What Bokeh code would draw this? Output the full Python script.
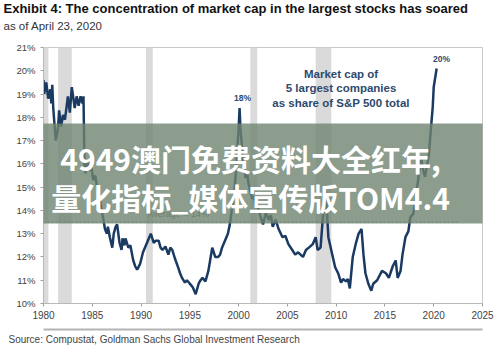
from bokeh.plotting import figure
from bokeh.models import (Label, BoxAnnotation, FixedTicker, Range1d, Title, LinearAxis)
from bokeh.core.properties import value
from bokeh.embed import file_html
from bokeh.resources import INLINE

# ---------------- data ----------------
years = [1980.0, 1980.07, 1980.28, 1980.48, 1980.69, 1980.8, 1980.9, 1981.0, 1981.25, 1981.4,
         1981.5, 1981.6, 1981.8, 1982.0, 1982.2, 1982.5, 1982.7, 1982.9, 1983.2, 1983.4,
         1983.6, 1983.8, 1984.0, 1984.1, 1984.2, 1984.3, 1984.5, 1984.7, 1984.9, 1985.1,
         1985.3, 1985.5, 1985.8, 1986.1, 1986.3, 1986.5, 1986.6, 1986.8, 1987.05, 1987.2,
         1987.4, 1987.55, 1987.7, 1987.8, 1988.0, 1988.1, 1988.3, 1988.4, 1988.7, 1988.9,
         1989.2, 1989.4, 1989.6, 1989.9, 1990.2, 1990.6, 1990.8, 1991.0, 1991.3, 1991.5,
         1991.8, 1992.0, 1992.2, 1992.5, 1992.8, 1993.0, 1993.2, 1993.5, 1993.8, 1994.0,
         1994.2, 1994.5, 1994.7, 1994.9, 1995.1, 1995.3, 1995.6, 1995.9, 1996.1, 1996.3,
         1996.6, 1996.9, 1997.1, 1997.3, 1997.6, 1997.9, 1998.1, 1998.3, 1998.6, 1998.9,
         1999.1, 1999.3, 1999.5, 1999.7, 1999.85, 2000.0, 2000.1, 2000.2, 2000.3, 2000.4,
         2000.6, 2000.7, 2000.9, 2001.0, 2001.2, 2001.4, 2001.6, 2001.7, 2001.9, 2002.0,
         2002.2, 2002.5, 2002.8, 2003.1, 2003.3, 2003.5, 2003.8, 2004.1, 2004.5, 2004.8,
         2005.1, 2005.5, 2005.8, 2006.1, 2006.6, 2006.9, 2007.2, 2007.6, 2007.9, 2008.1,
         2008.4, 2008.6, 2008.8, 2008.9, 2009.0, 2009.2, 2009.6, 2009.9, 2010.2, 2010.5,
         2010.7, 2011.0, 2011.2, 2011.4, 2011.7, 2012.0, 2012.3, 2012.6, 2012.8, 2013.0,
         2013.3, 2013.6, 2013.8, 2014.2, 2014.7, 2015.1, 2015.4, 2015.8, 2016.1, 2016.3,
         2016.6, 2016.8, 2017.1, 2017.4, 2017.6, 2017.9, 2018.0, 2018.2, 2018.5, 2018.7,
         2018.9, 2019.1, 2019.3, 2019.5, 2019.7, 2019.9, 2020.0, 2020.3]
share = [19.6, 19.0, 19.5, 18.8, 19.2, 18.6, 19.4, 18.4, 17.0, 17.3,
         17.6, 18.3, 17.6, 18.1, 17.9, 18.9, 18.2, 19.3, 18.4, 18.9,
         18.5, 18.9, 18.6, 18.9, 15.8, 15.6, 16.1, 15.7, 15.9, 15.3,
         15.5, 15.0, 14.4, 13.7, 13.2, 13.0, 13.3, 12.85, 12.4, 13.0,
         13.3, 13.4, 12.9, 12.6, 12.3, 12.8, 12.5, 12.8, 12.4, 12.5,
         11.85, 11.6, 11.45, 11.7, 12.2, 12.6, 12.8, 13.0, 12.6, 12.7,
         12.7, 12.4, 12.3, 12.45, 12.1, 12.4, 12.3, 11.9, 11.55, 11.3,
         11.1, 10.9, 11.0, 10.9, 10.8, 10.7, 10.4, 10.85, 11.0, 11.1,
         10.95, 11.4, 11.9, 12.4, 12.0, 12.0, 12.1, 12.4, 12.7, 13.0,
         13.4, 14.0, 14.6, 15.5, 16.5, 17.5, 18.4, 17.4, 17.0, 16.2,
         15.8, 15.4, 15.6, 15.2, 14.8, 14.5, 14.6, 14.3, 14.4, 14.1,
         13.8, 13.4, 13.9, 13.6, 13.8, 13.3, 13.6, 13.2, 12.85, 12.9,
         12.55, 12.3, 12.1, 12.2, 12.0, 12.3, 12.4, 12.55, 12.85, 12.3,
         12.4, 13.5, 14.5, 14.9, 14.3, 12.85, 12.1, 11.55, 11.3, 10.9,
         11.05, 10.95, 11.05, 10.65, 12.0, 12.55, 13.0, 13.2, 12.1, 11.3,
         10.85, 10.55, 10.85, 11.0, 11.4, 11.3, 11.1, 11.6, 11.85, 11.1,
         11.4, 12.1, 12.85, 13.1, 13.7, 13.85, 14.1, 14.7, 15.6, 16.3,
         15.75, 15.45, 15.9, 16.4, 17.45, 18.45, 19.3, 20.1]

rec_start = [1980.0, 1981.5, 1990.5, 2001.2, 2007.9]
rec_end = [1980.5, 1982.9, 1991.2, 2001.9, 2009.5]

avg_share = 13.5
avg_x = [1980.0, 2022.5]

x_ticks = [1980, 1985, 1990, 1995, 2000, 2005, 2010, 2015, 2020, 2025]
y_ticks = [10, 11, 12, 13, 14, 15, 16, 17, 18, 19, 20, 21]

title_text = "Exhibit 4: The concentration of market cap in the largest stocks has soared"
subtitle_text = "as of April 23, 2020"
source_text = "Source: Compustat, Goldman Sachs Global Investment Research"
series_lines = ["Market cap of", "5 largest companies", "as share of S&P 500 total"]
overlay_lines = ["4949澳门免费资料大全红年,", "量化指标_媒体宣传版TOM4.4"]

FONT = "Liberation Sans"
NAVY = "#1b3a62"
ANNO = "#2e4a6e"

p = figure(width=499, height=351, output_backend="svg", toolbar_location=None,
           x_range=Range1d(1980, 2025), y_range=Range1d(10, 21),
           min_border_left=43, min_border_right=17, min_border_top=47, min_border_bottom=48)
p.grid.visible = False
p.outline_line_color = "#c8c8c8"
p.outline_line_width = 1
p.background_fill_color = "white"
p.border_fill_color = "white"

# recession bands
p.quad(left=rec_start, right=rec_end, bottom=10, top=21, fill_color="#dadada",
       line_color=None)

# average
p.line(avg_x, [avg_share, avg_share], line_color="#7a7a7a", line_width=1, line_dash="2 2")
p.text(x=[1993.8], y=[avg_share + 0.12], text=["Average = 14%"], text_font=value(FONT),
       text_font_size="9px", text_color="#666666", text_align="center", text_baseline="bottom")

# series
p.line(years, share, line_color=NAVY, line_width=2.5)

# annotations
for i, t in enumerate(series_lines):
    p.text(x=[2010.5], y=[19.87 - 0.62 * i], text=[t], text_font=value(FONT),
           text_font_size="11.5px", text_font_style="bold", text_color=ANNO,
           text_align="center", text_baseline="middle")
p.text(x=[2000.4], y=[18.84], text=["18%"], text_font=value(FONT), text_font_size="8.5px",
       text_font_style="bold", text_color=ANNO, text_align="center", text_baseline="middle")
p.text(x=[2020.8], y=[20.5], text=["20%"], text_font=value(FONT), text_font_size="8.5px",
       text_font_style="bold", text_color=ANNO, text_align="center", text_baseline="middle")

# axes
for ax in (p.xaxis[0], p.yaxis[0]):
    ax.axis_line_color = "#b8b8b8"
    ax.major_tick_line_color = "#a0a0a0"
    ax.major_tick_in = 0
    ax.major_tick_out = 3
    ax.minor_tick_line_color = None
    ax.major_label_text_font = FONT
    ax.major_label_text_color = "#444444"
p.xaxis.ticker = FixedTicker(ticks=x_ticks)
p.yaxis.ticker = FixedTicker(ticks=y_ticks)
p.yaxis.major_label_overrides = {v: f"{v}%" for v in y_ticks}
p.xaxis.major_label_text_font_size = "10px"
p.yaxis.major_label_text_font_size = "9.5px"
p.xaxis.major_label_standoff = 4
p.yaxis.major_label_standoff = 5

# blank spacer, then separator line (an empty axis, line only), then source
p.add_layout(Title(text=" ", text_font=FONT, text_font_size="5px", standoff=0), "below")
sep = LinearAxis(ticker=FixedTicker(ticks=[]), axis_line_color="#b4b4b4", axis_line_width=2,
                 major_tick_line_color=None, minor_tick_line_color=None,
                 major_label_text_font_size="1px", major_label_standoff=0)
p.add_layout(sep, "below")
p.add_layout(Title(text=source_text, text_font=FONT, text_font_size="10px",
                   text_font_style="normal", text_color="#444444", offset=-35,
                   standoff=8, vertical_align="top"), "below")

# titles (subtitle nearest the frame)
p.add_layout(Title(text=subtitle_text + "\n ", text_font=FONT, text_font_size="11.5px",
                   text_font_style="normal", text_color="#333333", offset=-40,
                   standoff=4, vertical_align="top"), "above")
p.add_layout(Title(text=title_text, text_font=FONT, text_font_size="13px",
                   text_font_style="bold", text_color="#111111", offset=-40,
                   standoff=0, vertical_align="top"), "above")

# overlay banner
p.add_layout(BoxAnnotation(left=0, right=499, top=123, bottom=223, left_units="canvas",
                           right_units="canvas", top_units="canvas", bottom_units="canvas",
                           fill_color="#6f8470", fill_alpha=0.8, line_color=None, level="overlay"))
for i, t in enumerate(overlay_lines):
    p.add_layout(Label(x=250, y=157 + 39 * i, x_units="canvas", y_units="canvas", text=t,
                       text_font="Noto Sans CJK SC", text_font_size="30px",
                       text_font_style="bold", text_color="white", text_align="center",
                       text_baseline="middle", level="overlay"))

open("out.html", "w").write(file_html(p, INLINE))
